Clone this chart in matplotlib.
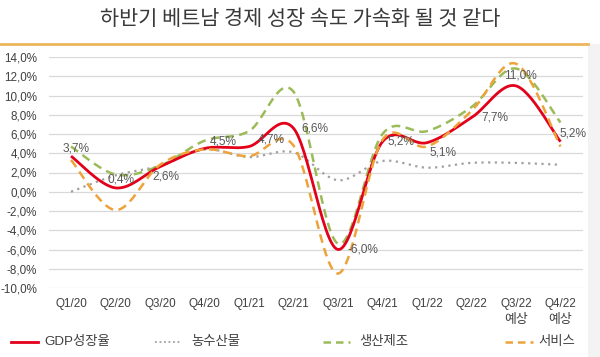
import numpy as np
import matplotlib
matplotlib.use("Agg")
import matplotlib.pyplot as plt
from matplotlib.lines import Line2D
from matplotlib.patches import Rectangle
from matplotlib.transforms import blended_transform_factory

plt.rcParams['font.family'] = ['Liberation Sans', 'Noto Sans CJK KR', 'DejaVu Sans']

title = "하반기 베트남 경제 성장 속도 가속화 될 것 같다"
categories = ["Q1/20", "Q2/20", "Q3/20", "Q4/20", "Q1/21", "Q2/21", "Q3/21",
              "Q4/21", "Q1/22", "Q2/22", "Q3/22", "Q4/22"]
forecast_note = ["", "", "", "", "", "", "", "", "", "", "예상", "예상"]
gdp = [3.7, 0.4, 2.6, 4.5, 4.7, 6.6, -6.0, 5.2, 5.1, 7.7, 11.0, 5.2]
agri = [0.0, 1.7, 2.7, 4.4, 3.6, 4.1, 1.2, 3.2, 2.5, 3.0, 3.0, 2.8]
manuf = [4.7, 1.8, 2.7, 5.3, 6.3, 10.4, -5.4, 6.0, 6.3, 8.8, 12.8, 7.2]
serv = [3.3, -1.9, 2.8, 4.4, 3.7, 4.8, -8.5, 5.4, 4.7, 8.4, 13.3, 4.7]
series_names = ["GDP성장율", "농수산물", "생산제조", "서비스"]
gdp_labels = ["3,7%", "0,4%", "2,6%", "4,5%", "4,7%", "6,6%", "-6,0%",
              "5,2%", "5,1%", "7,7%", "11,0%", "5,2%"]
yticks = list(range(-10, 15, 2))

# label offsets in pixels (dx, dy)
label_offsets = [(5, 8), (5, 8), (6, -10), (19, 7), (22, 7), (21, 0), (25, 0),
                 (19, 0), (16, -10), (23, 0), (4, 10), (13, 8)]


def smooth(xs, ys, n=30):
    xs = np.asarray(xs, float)
    ys = np.asarray(ys, float)
    px = np.concatenate([[2 * xs[0] - xs[1]], xs, [2 * xs[-1] - xs[-2]]])
    py = np.concatenate([[ys[0]], ys, [ys[-1]]])
    ox, oy = [], []
    for i in range(1, len(px) - 2):
        p0 = np.array([px[i - 1], py[i - 1]])
        p1 = np.array([px[i], py[i]])
        p2 = np.array([px[i + 1], py[i + 1]])
        p3 = np.array([px[i + 2], py[i + 2]])
        if i == 1:
            p0 = p1
        if i == len(px) - 3:
            p3 = p2
        c1 = p1 + (p2 - p0) / 6.0
        c2 = p2 - (p3 - p1) / 6.0
        t = np.linspace(0, 1, n)[:, None]
        pts = ((1 - t) ** 3) * p1 + 3 * ((1 - t) ** 2) * t * c1 + 3 * (1 - t) * t ** 2 * c2 + t ** 3 * p2
        if i > 1:
            pts = pts[1:]
        ox.extend(pts[:, 0])
        oy.extend(pts[:, 1])
    return np.array(ox), np.array(oy)


fig = plt.figure(figsize=(6.0, 3.57), dpi=100)
fig.patch.set_facecolor('white')

ax = fig.add_axes([48.75 / 600, (357 - 288) / 357, 534 / 600, (288 - 57) / 357])
x = np.arange(len(categories))

colors = {"gdp": "#E3001B", "agri": "#A0A0A0", "manuf": "#9BBB59", "serv": "#EDA33A"}

xs, ys = smooth(x, gdp)
ax.plot(xs, ys, color=colors["gdp"], lw=2.0, zorder=5, solid_capstyle='butt')
xs, ys = smooth(x, agri)
ax.plot(xs, ys, color=colors["agri"], lw=1.6, ls=(0, (1, 2)), zorder=3)
xs, ys = smooth(x, manuf)
ax.plot(xs, ys, color=colors["manuf"], lw=1.8, ls=(0, (3.5, 2.2)), zorder=4)
xs, ys = smooth(x, serv)
ax.plot(xs, ys, color=colors["serv"], lw=1.8, ls=(0, (3.5, 2.2)), zorder=6)

for i, (v, lab) in enumerate(zip(gdp, gdp_labels)):
    dx, dy = label_offsets[i]
    ax.annotate(lab, (x[i], v), xytext=(dx, dy), textcoords='offset pixels',
                ha='center', va='center', fontsize=8.6, color='#595959', zorder=7)

ax.set_xlim(-0.5, len(categories) - 0.5)
ax.set_ylim(-10, 14)
ax.set_yticks(yticks)
ax.set_yticklabels([f"{t:.1f}%".replace('.', ',') for t in yticks])
ax.set_xticks(x)
ax.set_xticklabels(categories)
ax.tick_params(axis='both', length=0, colors='#404040', labelsize=8.4)
ax.tick_params(axis='y', pad=8.5)
ax.tick_params(axis='x', pad=7)
ax.grid(axis='y', color='#D9D9D9', lw=0.9)
ax.set_axisbelow(True)
for s in ax.spines.values():
    s.set_visible(False)

# "예상" under forecast quarters
trans = blended_transform_factory(ax.transData, fig.transFigure)
for i, note in enumerate(forecast_note):
    if note:
        ax.text(x[i], 1 - 319.5 / 357, note, transform=trans, ha='center', va='center',
                fontsize=9.3, color='#404040', family=['Noto Sans CJK KR', 'DejaVu Sans'])

# title and decorative line
fig.text(0.5, 1 - 19 / 357, title, ha='center', va='center', fontsize=15,
         color='#3A3A3A', family=['Noto Sans CJK KR', 'DejaVu Sans'])
fig.add_artist(Line2D([0, 588 / 600], [1 - 44 / 357, 1 - 44 / 357], color='#EDB65C', lw=2.0))
fig.add_artist(Rectangle((588 / 600, 0), 12 / 600, 1 - 44 / 357, color='#F3F3F3', lw=0, zorder=-1))

# legend (manual)
ly = 1 - 342 / 357
legend_items = [
    (11, 38, 44, dict(color=colors["gdp"], lw=2.0)),
    (155, 182, 191, dict(color=colors["agri"], lw=1.3, ls=(0, (1, 1.5)))),
    (323, 350, 359, dict(color=colors["manuf"], lw=1.8, ls=(0, (3, 2)))),
    (505, 533, 538, dict(color=colors["serv"], lw=1.8, ls=(0, (3, 2)))),
]
for (x0, x1, tx, style), name in zip(legend_items, series_names):
    fig.add_artist(Line2D([x0 / 600, x1 / 600], [ly, ly], **style))
    fig.text(tx / 600, ly, name, ha='left', va='center', fontsize=9.6, color='#404040',
             family=['Liberation Sans', 'Noto Sans CJK KR'])

fig.savefig("out.png", dpi=100, facecolor='white')
